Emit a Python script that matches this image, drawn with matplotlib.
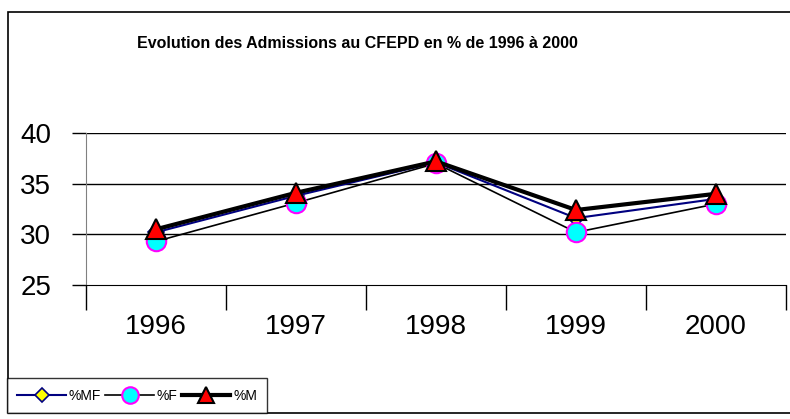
import matplotlib.pyplot as plt
from matplotlib.patches import Rectangle

years = ["1996", "1997", "1998", "1999", "2000"]
pct_mf = [30.2, 33.8, 37.1, 31.6, 33.5]
pct_f = [29.3, 33.1, 37.0, 30.2, 33.0]
pct_m = [30.5, 34.1, 37.2, 32.4, 34.0]

W, H = 790, 419
plt.rcParams['font.family'] = ['Liberation Sans', 'DejaVu Sans']

fig = plt.figure(figsize=(W / 100, H / 100), dpi=100)

# outer chart frame
fig.patches.append(Rectangle((8 / W, 1 - 413 / H), 800 / W, 401 / H,
                             transform=fig.transFigure, fill=False,
                             edgecolor='black', linewidth=1.2))

ax = fig.add_axes([86 / W, 1 - 285 / H, 700 / W, 152 / H])
x = list(range(len(years)))

ax.plot(x, pct_mf, color='#000080', linewidth=1.5, marker='D', markersize=8,
        markerfacecolor='#ffff00', markeredgecolor='#000080', markeredgewidth=1.2,
        label='%MF')
ax.plot(x, pct_f, color='black', linewidth=1.2, marker='o', markersize=14,
        markerfacecolor='#00ffff', markeredgecolor='#ff00ff', markeredgewidth=1.5,
        label='%F')
ax.plot(x, pct_m, color='black', linewidth=3, marker='^', markersize=14,
        markerfacecolor='#ff0000', markeredgecolor='black', markeredgewidth=1.5,
        label='%M')

ax.set_ylim(25, 40)
ax.set_yticks([25, 30, 35, 40])
ax.set_xlim(-0.5, len(years) - 0.5)
ax.set_xticks([i - 0.5 for i in range(len(years) + 1)])
ax.set_xticklabels([])
ax.set_xticks(x, minor=True)
ax.set_xticklabels(years, minor=True)
ax.tick_params(axis='x', which='major', direction='out', length=18, width=1, color='black')
ax.tick_params(axis='x', which='minor', length=0, pad=21, labelsize=20)
ax.tick_params(axis='y', direction='out', length=10, width=1, pad=15, labelsize=20)

for yv in [30, 35, 40]:
    ax.axhline(yv, color='black', linewidth=1, zorder=0)

for s in ['top', 'right']:
    ax.spines[s].set_visible(False)
ax.spines['left'].set_color('#808080')
ax.spines['bottom'].set_color('black')

fig.text(357 / W, 1 - 43 / H, "Evolution des Admissions au CFEPD en % de 1996 à 2000",
         ha='center', va='center', fontsize=11.5, fontweight='bold')

leg = fig.legend(loc='lower left', bbox_to_anchor=(7 / W, 1 - 413 / H), ncol=3,
                 fontsize=10, frameon=True, fancybox=False, handlelength=3.5,
                 columnspacing=0.3, handletextpad=0.2, borderpad=0.75,
                 borderaxespad=0)
leg.get_frame().set_edgecolor('black')
leg.get_frame().set_linewidth(1)
for h in leg.legend_handles:
    h.set_markersize(h.get_markersize() * 0.85)

fig.savefig("out.png", dpi=100)
